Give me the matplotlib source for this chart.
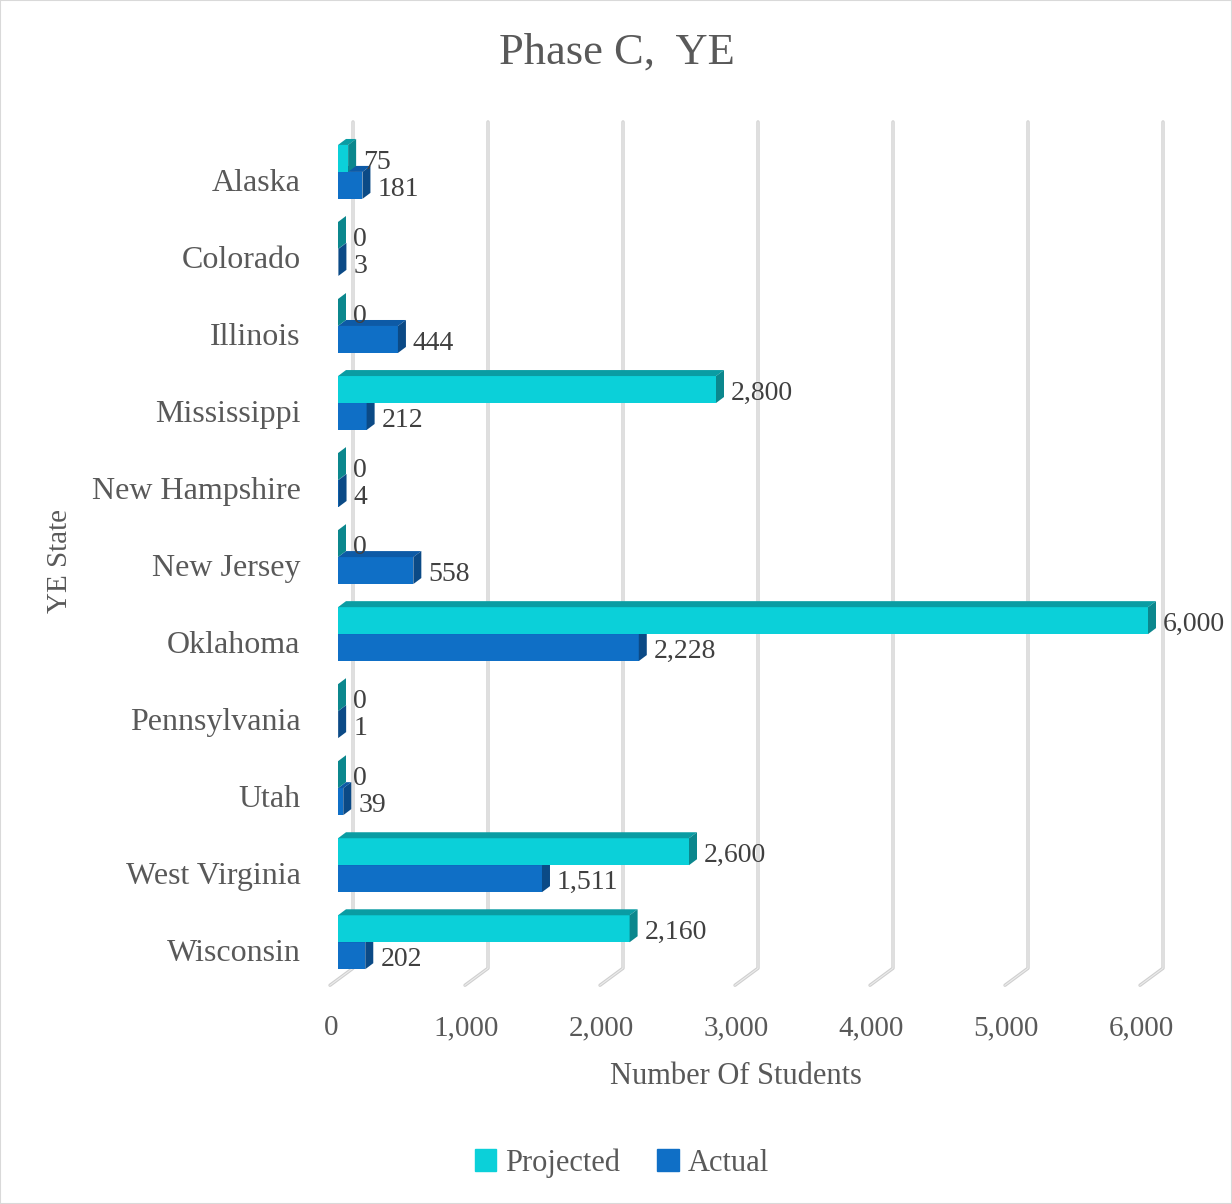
import matplotlib.pyplot as plt
from matplotlib.patches import Polygon, Patch, Rectangle
from matplotlib.transforms import ScaledTranslation

# chart data
states = ['Alaska', 'Colorado', 'Illinois', 'Mississippi', 'New Hampshire', 'New Jersey',
          'Oklahoma', 'Pennsylvania', 'Utah', 'West Virginia', 'Wisconsin']
projected = [75, 0, 0, 2800, 0, 0, 6000, 0, 0, 2600, 2160]
actual = [181, 3, 444, 212, 4, 558, 2228, 1, 39, 1511, 202]
xticks = [0, 1000, 2000, 3000, 4000, 5000, 6000]

plt.rcParams['font.family'] = ['Liberation Serif', 'DejaVu Serif']

# layout (pixels)
W, H = 1232, 1204
L, R, T, B = 338, 1175, 118, 990
XMAX = 6200
Y0, Y1 = -0.70, 10.62
ux = XMAX / (R - L)          # data units per pixel (x)
uy = (Y1 - Y0) / (B - T)     # data units per pixel (y)
dx, dy = 8 * ux, 6 * uy      # 3d depth offset
BH = 0.35

c_proj = ('#0bd0d9', '#0a9ca3', '#0b878d')   # front, top, side
c_act = ('#0f6fc6', '#0d5aa6', '#0b4a86')

fig = plt.figure(figsize=(W / 100, H / 100), dpi=100)
ax = fig.add_axes([L / W, 1 - B / H, (R - L) / W, (B - T) / H])
ax.set_xlim(0, XMAX)
ax.set_ylim(Y1, Y0)
for s in ax.spines.values():
    s.set_visible(False)

# gridlines: back wall + floor diagonal
for v in xticks:
    xb = v + 15 * ux
    yb_top = (122 - 172) / 77
    yb_bot = (968 - 172) / 77
    xf = xb - 23 * ux
    yf = (985 - 172) / 77
    ax.plot([xb, xb, xf], [yb_top, yb_bot, yf], color='#cfcfcf', lw=2.4,
            solid_capstyle='round', zorder=1, clip_on=False)
    ax.plot([xb, xb, xf], [yb_top, yb_bot, yf], color='#ececec', lw=0.8,
            zorder=1, clip_on=False)


def bar3d(vals, offset, cols, z):
    pos = list(range(len(vals)))
    ys = [p + offset for p in pos]
    ax.barh(ys, vals, height=BH, align='edge', color=cols[0], zorder=z)
    for v, yt in zip(vals, ys):
        yb = yt + BH
        ax.add_patch(Polygon([(0, yt), (v, yt), (v + dx, yt - dy), (dx, yt - dy)],
                             closed=True, facecolor=cols[1], edgecolor='none', zorder=z))
        ax.add_patch(Polygon([(v, yt), (v, yb), (v + dx, yb - dy), (v + dx, yt - dy)],
                             closed=True, facecolor=cols[2], edgecolor='none', zorder=z))
        ax.text(v + 15 * ux, yt + BH / 2 + 4 * uy, f'{v:,}', ha='left', va='center',
                fontsize=20, color='#404040', zorder=5)


bar3d(actual, 0, c_act, 2)
bar3d(projected, -BH, c_proj, 3)

ax.set_yticks([i + 0.1 for i in range(len(states))])
ax.set_yticklabels(states, fontsize=23, color='#595959')
ax.set_xticks(xticks)
ax.set_xticklabels([f'{v:,}' for v in xticks], fontsize=21, color='#595959')
ax.tick_params(axis='y', length=0, pad=27)
ax.tick_params(axis='x', length=0, pad=18)
for lbl in ax.get_xticklabels():
    lbl.set_transform(lbl.get_transform() + ScaledTranslation(-7 / 100, 0, fig.dpi_scale_trans))

fig.text(617 / W, 1 - 53 / H, 'Phase C,  YE', ha='center', va='center', fontsize=32, color='#595959')
fig.text(736 / W, 1 - 1077 / H, 'Number Of Students', ha='center', va='center', fontsize=22, color='#595959')
fig.text(60 / W, 1 - 561 / H, 'YE State', ha='center', va='center', rotation=90, fontsize=21, color='#595959')

handles = [Patch(color=c_proj[0], label='Projected'), Patch(color=c_act[0], label='Actual')]
fig.legend(handles=handles, loc='center', bbox_to_anchor=(622 / W, 1 - 1163 / H), ncol=2,
           frameon=False, fontsize=22, handlelength=0.7, handleheight=0.7,
           handletextpad=0.3, columnspacing=1.2, labelcolor='#595959')

fig.patches.append(Rectangle((0, 0), 1, 1, transform=fig.transFigure, fill=False,
                             edgecolor='#d9d9d9', lw=1.5))

fig.savefig('out.png', dpi=100)
